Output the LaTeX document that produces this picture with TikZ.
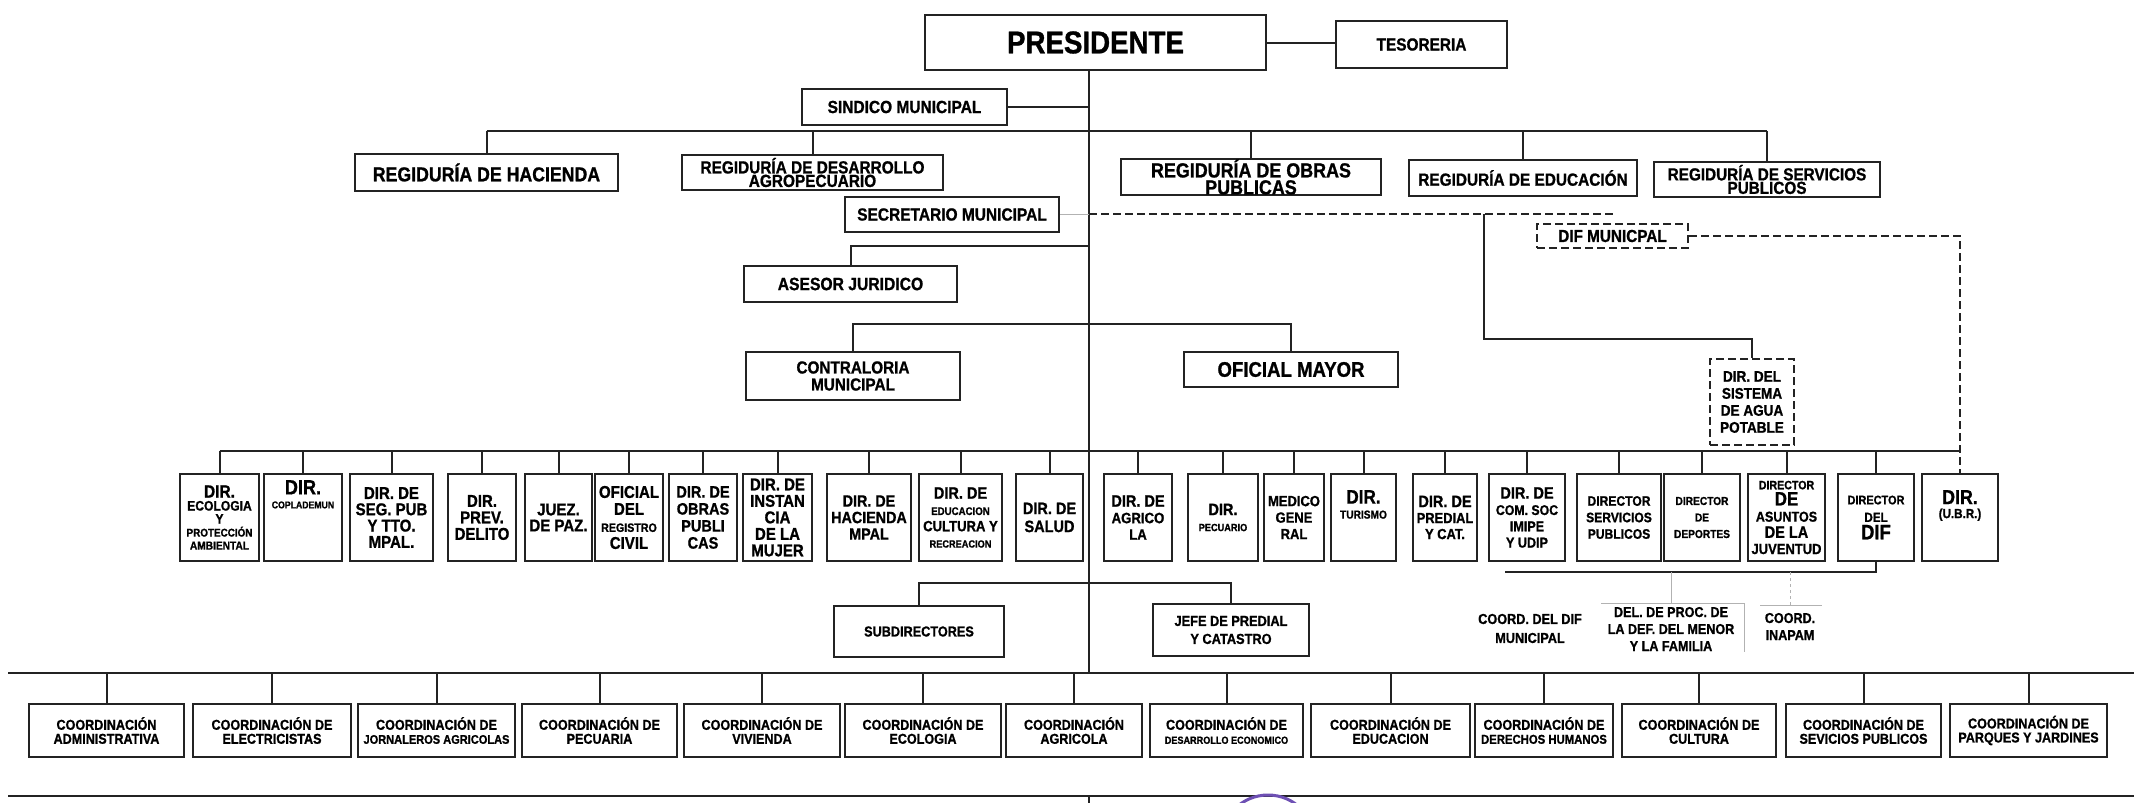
\documentclass[tikz,border=0pt]{standalone}
\usepackage{fontspec}
\setmainfont{Liberation Sans}[FakeStretch=0.88, BoldFeatures={FakeBold=1}]
\newcommand{\fscale}{1.1}
\newcommand{\lsz}[1]{\fontsize{\fpeval{#1*\fscale}}{#1}\selectfont}
\lineskiplimit=-100pt
\lineskip=0pt
\definecolor{linecol}{RGB}{35,35,35}
\definecolor{stampcol}{RGB}{110,80,180}
\tikzset{
  fsz/.style 2 args={font={\bfseries\fontsize{\fpeval{#1*\fscale}}{#2}\selectfont}},
  bx/.style={draw=linecol, line width=2pt, inner sep=0pt, align=center, text=black},
  dsh/.style={dash pattern=on 8pt off 4pt},
  dbx/.style={bx, dsh},
  dirb/.style={bx, minimum height=87pt},
  cbox/.style={bx, minimum height=53pt, fsz={13}{14}},
  txt/.style={inner sep=0pt, align=center, text=black},
  ln/.style={draw=linecol, line width=2pt},
  thinln/.style={draw=gray!60, line width=1pt}
}
\begin{document}
\begin{tikzpicture}[x=1pt,y=-1pt]
\useasboundingbox[fill=white] (0,0) rectangle (2134,803);

% ---- top level ----
\node[bx, minimum width=341pt, minimum height=55pt, fsz={28.6}{30}] (pres) at (1095.5,42.5) {PRESIDENTE};
\node[bx, minimum width=171pt, minimum height=47pt, fsz={15.9}{16}] (tes) at (1421.5,44.5) {TESORERIA};
\node[bx, minimum width=205pt, minimum height=36pt, fsz={16}{16}] (sin) at (904.5,107) {SINDICO MUNICIPAL};
\node[bx, minimum width=263pt, minimum height=37pt, fsz={18.3}{16}] (rh) at (486.5,172.5) {REGIDURÍA DE HACIENDA};
\node[bx, minimum width=261pt, minimum height=35pt, fsz={15.9}{13.5}] (rd) at (812.5,172.5) {REGIDURÍA DE DESARROLLO\\AGROPECUARIO};
\node[bx, minimum width=260pt, minimum height=36pt, fsz={18.5}{17}] (ro) at (1251,177) {REGIDURÍA DE OBRAS\\PUBLICAS};
\node[bx, minimum width=228pt, minimum height=36pt, fsz={15.9}{16}] (re) at (1523,178) {REGIDURÍA DE EDUCACIÓN};
\node[bx, minimum width=226pt, minimum height=35pt, fsz={15.8}{13.5}] (rs) at (1767,179.5) {REGIDURÍA DE SERVICIOS\\PUBLICOS};
\node[bx, minimum width=214pt, minimum height=35pt, fsz={16}{16}] (sec) at (952,214.5) {SECRETARIO MUNICIPAL};
\node[dbx, minimum width=151pt, minimum height=24pt, fsz={15.8}{16}] (difm) at (1612.5,236) {DIF MUNICPAL};
\node[bx, minimum width=213pt, minimum height=36pt, fsz={16.2}{16}] (ase) at (850.5,284) {ASESOR JURIDICO};
\node[bx, minimum width=214pt, minimum height=48pt, fsz={15.8}{17}] (con) at (853,376) {CONTRALORIA\\MUNICIPAL};
\node[bx, minimum width=214pt, minimum height=35pt, fsz={19.2}{16}] (ofm) at (1291,369.5) {OFICIAL MAYOR};
\node[dbx, minimum width=84pt, minimum height=86pt, fsz={14}{17}] (sis) at (1752,402) {DIR. DEL\\SISTEMA\\DE AGUA\\POTABLE};

% ---- directors row ----
\node[dirb, minimum width=79pt, fsz={12.5}{13}] (eco) at (219.5,517.5) {{\lsz{16}DIR.}\\ECOLOGIA\\Y\\{\lsz{10.2}PROTECCIÓN}\\{\lsz{10.5}AMBIENTAL}};
\node[dirb, minimum width=78pt] (cop) at (303,517.5) {};
\node[txt, anchor=north, fsz={18.7}{14}] (copt) at ([yshift=-7pt]cop.north) {DIR.\\{\lsz{9}COPLADEMUN}};
\node[dirb, minimum width=83pt, fsz={15.5}{16.3}] (seg) at (391.5,517.5) {DIR. DE\\SEG. PUB\\Y TTO.\\MPAL.};
\node[dirb, minimum width=68pt, fsz={15.5}{16.5}] (prev) at (482,517.5) {DIR.\\PREV.\\DELITO};
\node[dirb, minimum width=67pt, fsz={15.5}{16}] (juez) at (558.5,517.5) {JUEZ.\\DE PAZ.};
\node[dirb, minimum width=68pt, fsz={15.5}{17}] (ofi) at (629,517.5) {OFICIAL\\DEL\\{\lsz{11}REGISTRO}\\CIVIL};
\node[dirb, minimum width=68pt, fsz={15}{17}] (obr) at (703,517.5) {DIR. DE\\OBRAS\\PUBLI\\CAS};
\node[dirb, minimum width=69pt, fsz={15.5}{16.5}] (ins) at (777.5,517.5) {DIR. DE\\INSTAN\\CIA\\DE LA\\MUJER};
\node[dirb, minimum width=84pt, fsz={14.8}{16.5}] (hac) at (869,517.5) {DIR. DE\\HACIENDA\\MPAL};
\node[dirb, minimum width=83pt, fsz={15}{16.3}] (edu) at (960.5,517.5) {DIR. DE\\{\lsz{10}EDUCACION}\\{\lsz{13.5}CULTURA Y}\\{\lsz{9.5}RECREACION}};
\node[dirb, minimum width=67pt, fsz={15}{18}] (sal) at (1049.5,517.5) {DIR. DE\\SALUD};
\node[dirb, minimum width=68pt, fsz={15}{16.5}] (agr) at (1138,517.5) {DIR. DE\\{\lsz{13.6}AGRICO}\\{\lsz{13.6}LA}};
\node[dirb, minimum width=70pt, fsz={15}{16}] (pec) at (1223,517.5) {DIR.\\{\lsz{9.5}PECUARIO}};
\node[dirb, minimum width=60pt, fsz={13.4}{16.5}] (med) at (1294,517.5) {MEDICO\\GENE\\RAL};
\node[dirb, minimum width=65pt] (tur) at (1363.5,517.5) {};
\node[txt, anchor=north, fsz={17.7}{15}] (turt) at ([yshift=-17pt]tur.north) {DIR.\\{\lsz{10.5}TURISMO}};
\node[dirb, minimum width=64pt, fsz={15}{16}] (pre) at (1445,517.5) {DIR. DE\\{\lsz{13.3}PREDIAL}\\{\lsz{13.3}Y CAT.}};
\node[dirb, minimum width=76pt, fsz={15}{16.3}] (com) at (1527,517.5) {DIR. DE\\{\lsz{12.7}COM. SOC}\\{\lsz{13}IMIPE}\\{\lsz{13}Y UDIP}};
\node[dirb, minimum width=84pt, fsz={12.5}{16.5}] (ser) at (1619,517.5) {DIRECTOR\\SERVICIOS\\PUBLICOS};
\node[dirb, minimum width=76pt, fsz={10.5}{16.5}] (dep) at (1702,517.5) {DIRECTOR\\DE\\DEPORTES};
\node[dirb, minimum width=77pt, fsz={13}{16.2}] (juv) at (1786.5,517.5) {{\lsz{11}DIRECTOR}\\{\lsz{17.5}DE}\\ASUNTOS\\{\lsz{15}DE LA}\\{\lsz{13.4}JUVENTUD}};
\node[dirb, minimum width=76pt, fsz={11.3}{17.5}] (dif) at (1876,517.5) {DIRECTOR\\{\lsz{12}DEL}\\{\lsz{19}DIF}};
\node[dirb, minimum width=76pt] (ubr) at (1960,517.5) {};
\node[txt, anchor=north, fsz={18.4}{14}] (ubrt) at ([yshift=-17pt]ubr.north) {DIR.\\{\lsz{12}(U.B.R.)}};

% ---- middle level ----
\node[bx, minimum width=170pt, minimum height=51pt, fsz={13.1}{14}] (sub) at (919,631.5) {SUBDIRECTORES};
\node[bx, minimum width=156pt, minimum height=52pt, fsz={13.2}{18}] (jefe) at (1231,630) {JEFE DE PREDIAL\\Y CATASTRO};
\node[txt, fsz={13.1}{19}] (cdif) at (1530,628.5) {COORD. DEL DIF\\MUNICIPAL};
\node[txt, fsz={13}{17}] (delp) at (1671,629) {DEL. DE PROC. DE\\LA DEF. DEL MENOR\\Y LA FAMILIA};
\node[txt, fsz={13}{17}] (inap) at (1790,626.5) {COORD.\\INAPAM};

% ---- coordinations ----
\node[cbox, minimum width=155pt] (c1) at (106.5,730.5) {COORDINACIÓN\\ADMINISTRATIVA};
\node[cbox, minimum width=158pt] (c2) at (272,730.5) {COORDINACIÓN DE\\ELECTRICISTAS};
\node[cbox, minimum width=157pt] (c3) at (436.5,730.5) {COORDINACIÓN DE\\{\lsz{11.4}JORNALEROS AGRICOLAS}};
\node[cbox, minimum width=155pt] (c4) at (599.5,730.5) {COORDINACIÓN DE\\PECUARIA};
\node[cbox, minimum width=156pt] (c5) at (762,730.5) {COORDINACIÓN DE\\VIVIENDA};
\node[cbox, minimum width=156pt] (c6) at (923,730.5) {COORDINACIÓN DE\\ECOLOGIA};
\node[cbox, minimum width=136pt] (c7) at (1074,730.5) {COORDINACIÓN\\AGRICOLA};
\node[cbox, minimum width=153pt] (c8) at (1226.5,730.5) {COORDINACIÓN DE\\{\lsz{9.4}DESARROLLO ECONOMICO}};
\node[cbox, minimum width=159pt] (c9) at (1390.5,730.5) {COORDINACIÓN DE\\EDUCACION};
\node[cbox, minimum width=138pt] (c10) at (1544,730.5) {COORDINACIÓN DE\\{\lsz{11.7}DERECHOS HUMANOS}};
\node[cbox, minimum width=154pt] (c11) at (1699,730.5) {COORDINACIÓN DE\\CULTURA};
\node[cbox, minimum width=155pt] (c12) at (1863.5,730.5) {COORDINACIÓN DE\\SEVICIOS PUBLICOS};
\node[cbox, minimum width=157pt] (c13) at (2028.5,730.5) {COORDINACIÓN DE\\PARQUES Y JARDINES};

% ---- coordinates ----
\coordinate (sp) at (1089,70);
\coordinate (spb) at (1089,803);
\coordinate (regbus) at (0,131);
\coordinate (dashend) at (1615,214);
\coordinate (aguaT) at (1484,214);
\coordinate (aguaB) at (1484,339);
\coordinate (asebus) at (0,246);
\coordinate (conbus) at (0,324);
\coordinate (dirbus) at (0,451);
\coordinate (difL) at (1505,572);
\coordinate (subbus) at (0,583);
\coordinate (cbL) at (8,673);
\coordinate (cbR) at (2134,673);
\coordinate (bbL) at (8,796);
\coordinate (bbR) at (2134,796);
\coordinate (dpL) at (1601,603);
\coordinate (dpR) at (1744,603);
\coordinate (dpB) at (1744,652);
\coordinate (inL) at (1760,605);
\coordinate (inR) at (1822,605);

% ---- connectors ----
\draw[ln] (sp) -- (sp |- cbL);
\draw[ln] (sp |- bbL) -- (spb);
\draw[ln] (pres.east) -- (pres.east -| tes.west);
\draw[ln] (sin.east) -- (sin.east -| sp);
\draw[ln] (rh.north |- regbus) -- (rs.north |- regbus);
\foreach \n in {rh,rd,ro,re,rs} \draw[ln] (\n.north) -- (\n.north |- regbus);
\draw[thinln] (sec.east) -- (sec.east -| sp);
\draw[ln, dsh] (sp |- dashend) -- (dashend);
\draw[ln, line width=1.5pt] (aguaT) -- (aguaB) -| (sis.north);
\draw[ln, dsh] (difm.east) -| (ubr.north);
\draw[ln] (ase.north) -- (ase.north |- asebus) -- (sp |- asebus);
\draw[ln] (con.north) -- (con.north |- conbus) -- (ofm.north |- conbus) -- (ofm.north);
\draw[ln] (eco.north |- dirbus) -- (ubr.north |- dirbus);
\foreach \n in {eco,cop,seg,prev,juez,ofi,obr,ins,hac,edu,sal,agr,pec,med,tur,pre,com,ser,dep,juv,dif}
  \draw[ln] (\n.north) -- (\n.north |- dirbus);
\draw[ln] (dif.south) |- (difL);
\draw[thinln] (delp.north |- difL) -- (delp.north |- dpL);
\draw[thinln, dashed] (inap.north |- difL) -- (inap.north |- inL);
\draw[thinln] (dpL) -- (dpR) -- (dpB);
\draw[thinln] (inL) -- (inR);
\draw[ln] (sub.north) -- (sub.north |- subbus) -- (jefe.north |- subbus) -- (jefe.north);
\draw[ln] (cbL) -- (cbR);
\foreach \n in {c1,c2,c3,c4,c5,c6,c7,c8,c9,c10,c11,c12,c13}
  \draw[ln] (\n.north) -- (\n.north |- cbL);
\draw[ln] (bbL) -- (bbR);

% ---- stamp fragment ----
\begin{scope}
  \clip (0,0) rectangle (2134,803);
  \draw[stampcol, line width=3pt] (1268,842) circle (47pt);
\end{scope}
\end{tikzpicture}
\end{document}
